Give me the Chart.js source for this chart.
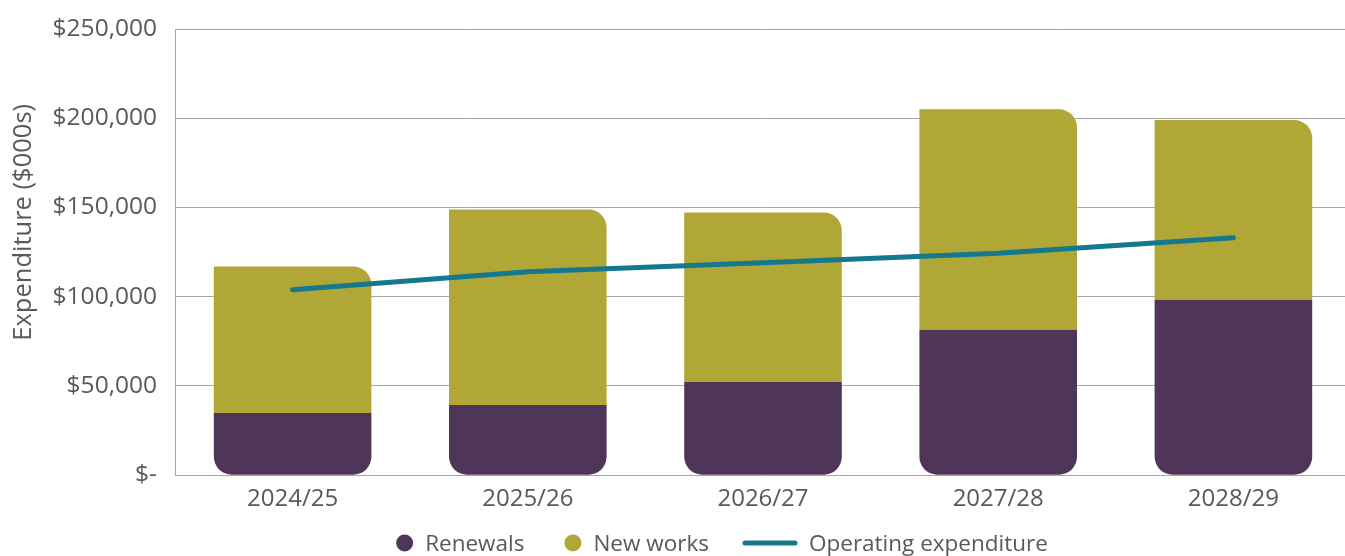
<!DOCTYPE html>
<html>
<head>
<meta charset="utf-8">
<title>Expenditure</title>
<script src="https://cdn.jsdelivr.net/npm/chart.js@4.4.1/dist/chart.umd.min.js"></script>
<style>
    body { margin: 0; background: #fff; overflow: hidden; }
    #wrap { width: 1345px; height: 556px; overflow: hidden; }
</style>
</head>
<body>
<div id="wrap"><canvas id="expChart" width="1351" height="556"></canvas></div>
<script>
// Datos ($000s)
const years = ['2024/25', '2025/26', '2026/27', '2027/28', '2028/29'];
const renewals = [34800, 39300, 52200, 81500, 98300];
const newWorks = [82100, 109600, 95000, 123500, 100700];
const operating = [103900, 114000, 119100, 124300, 133100];
const yTicks = [0, 50000, 100000, 150000, 200000, 250000];

const textColor = '#595959';
const gridColor = '#a6a6a6';
const font = '"Open Sans", sans-serif';

// Leyenda propia: círculos para barras, línea larga para la serie de línea
const bottomLegend = {
    id: 'bottomLegend',
    afterDraw(chart) {
        const ctx = chart.ctx;
        const items = chart.data.datasets.map((ds) => ({
            label: ds.label,
            line: ds.type === 'line',
            color: ds.type === 'line' ? ds.borderColor : ds.backgroundColor,
        }));
        ctx.save();
        ctx.font = '22.5px ' + font;
        ctx.textBaseline = 'middle';
        const markerGap = 12;
        const gaps = [40, 34];
        let total = gaps[0] + gaps[1];
        items.forEach((it) => {
            it.mw = it.line ? 54 : 17;
            it.tw = ctx.measureText(it.label).width;
            total += it.mw + markerGap + it.tw;
        });
        let x = 722 - total / 2;
        const y = chart.height - 13;
        items.forEach((it, i) => {
            if (it.line) {
                ctx.strokeStyle = it.color;
                ctx.lineWidth = 5;
                ctx.lineCap = 'round';
                ctx.beginPath();
                ctx.moveTo(x + 2, y);
                ctx.lineTo(x + it.mw - 2, y);
                ctx.stroke();
            } else {
                ctx.fillStyle = it.color;
                ctx.beginPath();
                ctx.arc(x + it.mw / 2, y, it.mw / 2, 0, Math.PI * 2);
                ctx.fill();
            }
            x += it.mw + markerGap;
            ctx.fillStyle = textColor;
            ctx.fillText(it.label, x, y + 2);
            x += it.tw + (gaps[i] || 0);
        });
        ctx.restore();
    },
};

const ctx = document.getElementById('expChart').getContext('2d');
const chart = new Chart(ctx, {
    type: 'bar',
    data: {
        labels: years,
        datasets: [
            {
                label: 'Renewals',
                data: renewals,
                backgroundColor: '#4f3558',
                borderWidth: 0,
                borderSkipped: false,
                borderRadius: { topLeft: 0, topRight: 0, bottomLeft: 18, bottomRight: 18 },
                stack: 'capex',
                order: 1,
            },
            {
                label: 'New works',
                data: newWorks,
                backgroundColor: '#b0a736',
                borderWidth: 0,
                borderSkipped: false,
                borderRadius: { topLeft: 0, topRight: 18, bottomLeft: 0, bottomRight: 0 },
                stack: 'capex',
                order: 2,
            },
            {
                type: 'line',
                label: 'Operating expenditure',
                data: operating,
                borderColor: '#14788f',
                backgroundColor: '#14788f',
                borderWidth: 5,
                borderCapStyle: 'round',
                borderJoinStyle: 'round',
                pointRadius: 0,
                pointHoverRadius: 0,
                tension: 0,
                fill: false,
                stack: 'opex',
                order: 0,
            },
        ],
    },
    options: {
        responsive: false,
        animation: false,
        layout: {
            padding: { top: 29, right: 0, bottom: 40, left: 0 },
        },
        datasets: {
            bar: {
                categoryPercentage: 1,
                barPercentage: 0.67,
            },
        },
        scales: {
            x: {
                stacked: true,
                grid: { display: false },
                border: { display: false },
                afterFit: (scale) => {
                    scale.paddingLeft = 0;
                    scale.paddingRight = 0;
                },
                ticks: {
                    color: textColor,
                    font: { family: font, size: 24 },
                    padding: 2,
                },
            },
            y: {
                stacked: true,
                min: 0,
                max: 250000,
                afterFit: (scale) => {
                    scale.width = 175;
                    scale.paddingTop = 0;
                    scale.paddingBottom = 0;
                },
                afterBuildTicks: (scale) => {
                    scale.ticks = yTicks.map((v) => ({ value: v }));
                },
                grid: {
                    color: gridColor,
                    drawTicks: false,
                },
                border: { display: true, color: gridColor },
                ticks: {
                    color: textColor,
                    font: { family: font, size: 24.5 },
                    padding: 18,
                    callback: (v) => (v === 0 ? '$-' : '$' + v.toLocaleString('en-US')),
                },
                title: {
                    display: true,
                    text: '         Expenditure ($000s)',
                    color: textColor,
                    font: { family: font, size: 25.5 },
                    padding: { top: 8, bottom: 4 },
                },
            },
        },
        plugins: {
            legend: { display: false },
            tooltip: { enabled: false },
        },
    },
    plugins: [bottomLegend],
});
</script>
</body>
</html>
